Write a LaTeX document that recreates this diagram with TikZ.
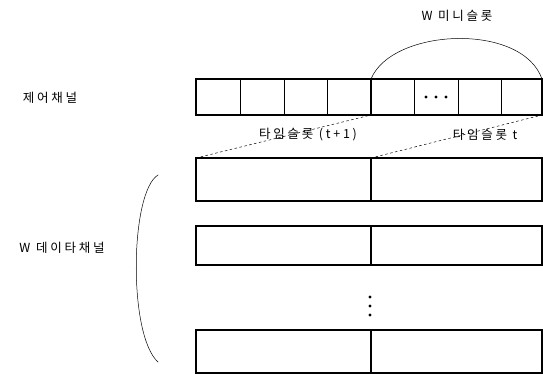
\documentclass[tikz,border=0pt]{standalone}
\usepackage{fontspec}
\newfontfamily\krfont[LetterSpace=22]{Noto Sans CJK KR}
\begin{document}
\begin{tikzpicture}[x=1pt,y=-1pt,line cap=rect,line width=1.1pt,
	label/.style={font=\krfont\fontsize{12.5}{14}\selectfont, inner sep=0pt},
	slotline/.style={line width=0.5pt, dash pattern=on 2pt off 3pt},
	thinwall/.style={line width=0.5pt}]
\useasboundingbox (0,0) rectangle (543,373);

% Control channel
\draw (196,79) rectangle (542,115);
\foreach \x in {240,284,327,414,458,501}
{
	\draw[thinwall] (\x,79) -- (\x,115);
}
\draw (371,79) coordinate (ctl-mid) -- (371,115) coordinate (ctl-midlow);
\coordinate (ctl-right) at (542,79);
\coordinate (ctl-rightlow) at (542,115);
\foreach \x in {426,436,446}
{
	\fill (\x,97) circle [radius=1.6pt];
}
\node[label] (ctl-name) at (50,98) {제어채널};

% W mini slots
\draw[thinwall] (ctl-mid) .. controls (392,28) and (522,22) .. (ctl-right);
\node[label] (mini-name) at (457,16) {W 미니슬롯};

% Data channels
\foreach \top/\bot [count=\i] in {158/201,226/265,330/373}
{
	\draw (196,\top) rectangle (542,\bot);
	\draw (371,\top) coordinate (data-mid-\i) -- (371,\bot);
	\coordinate (data-left-\i) at (196,\top);
}
\foreach \y in {297,306,315}
{
	\fill (370,\y) circle [radius=1.6pt];
}
\node[label] (data-name) at (62,248) {W 데이타채널};
\draw[thinwall] (158,175) .. controls (130,192) and (128,335) .. (158,362);

% Time slots
\draw[slotline] (data-left-1) -- (ctl-midlow);
\draw[slotline] (data-mid-1) -- (ctl-rightlow);
\node[label] (slot-next) at (308,135) {타임슬롯 (t+1)};
\node[label] (slot-now) at (485,135) {타임슬롯 t};

\end{tikzpicture}
\end{document}
